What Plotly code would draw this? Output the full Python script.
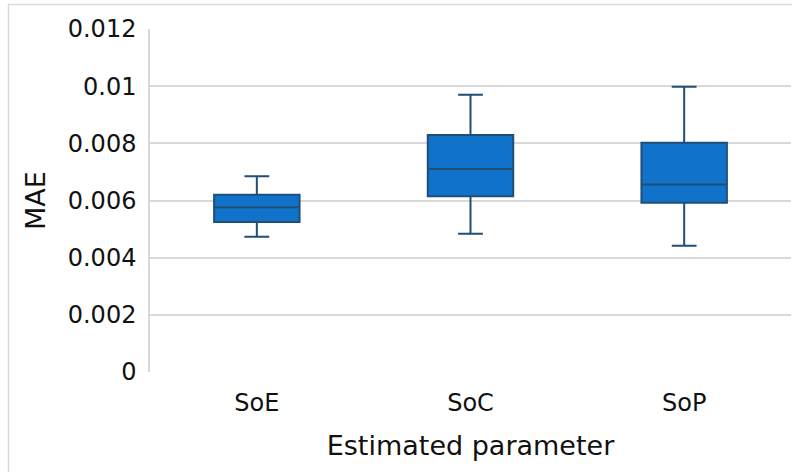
import plotly.graph_objects as go

# Summary statistics of the mean absolute error per estimated parameter
categories = ["SoE", "SoC", "SoP"]
lower_whisker = [0.00473, 0.00484, 0.00442]
q1 = [0.00525, 0.00615, 0.00592]
median = [0.00576, 0.00710, 0.00656]
q3 = [0.00620, 0.00829, 0.00802]
upper_whisker = [0.00685, 0.00970, 0.00998]

y_tick_values = [0, 0.002, 0.004, 0.006, 0.008, 0.01, 0.012]
y_tick_labels = ["0", "0.002", "0.004", "0.006", "0.008", "0.01", "0.012"]

FONT = "DejaVu Sans"
GRID = "#d9d9d9"

fig = go.Figure()
fig.add_trace(go.Box(
    x=categories,
    q1=q1,
    median=median,
    q3=q3,
    lowerfence=lower_whisker,
    upperfence=upper_whisker,
    boxpoints=False,
    width=0.4,
    whiskerwidth=0.29,
    fillcolor="#1172c9",
    line=dict(color="#1f4e79", width=2),
    showlegend=False,
))

# Thin frame around the whole chart area
fig.add_shape(type="rect", xref="paper", yref="paper",
              x0=-0.2207, x1=1.5, y0=-0.6, y1=1.0714,
              line=dict(color=GRID, width=1.5), layer="below")

fig.update_layout(
    width=792,
    height=472,
    margin=dict(l=150, r=1, t=29, b=100),
    paper_bgcolor="white",
    plot_bgcolor="white",
    font=dict(family=FONT, color="#111111"),
    xaxis=dict(
        type="category",
        range=[-0.5, 2.5],
        showgrid=False,
        showline=False,
        zeroline=False,
        ticks="",
        ticklabelstandoff=14,
        tickfont=dict(family=FONT, size=24),
        title=dict(text="Estimated parameter", font=dict(family=FONT, size=27), standoff=20),
    ),
    yaxis=dict(
        range=[0, 0.012],
        tickvals=y_tick_values,
        ticktext=y_tick_labels,
        showgrid=True,
        gridcolor=GRID,
        gridwidth=1.5,
        showline=True,
        linecolor=GRID,
        linewidth=1.5,
        zeroline=False,
        ticks="",
        ticklabelstandoff=7,
        tickfont=dict(family=FONT, size=24),
        title=dict(text="MAE", font=dict(family=FONT, size=27), standoff=14),
    ),
)

fig.write_html("out.html")
